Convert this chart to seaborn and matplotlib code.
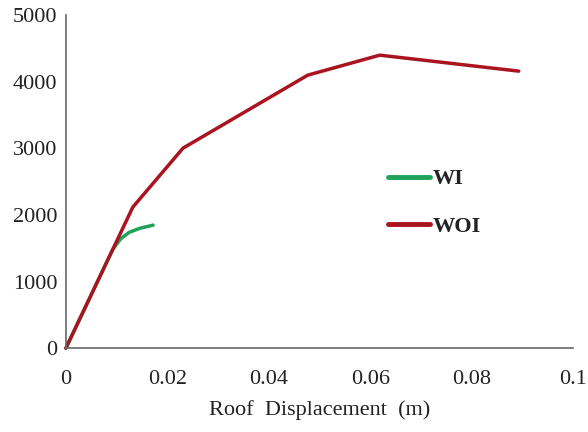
import pandas as pd
import numpy as np
import matplotlib
matplotlib.use("Agg")
import matplotlib.pyplot as plt
import seaborn as sns

# =========================
# DATA
# =========================

wi_disp = [0.0, 0.0093, 0.0108, 0.0125, 0.0146, 0.0172]
wi_force = [0, 1490, 1640, 1740, 1800, 1847]

woi_disp = [0.0, 0.0132, 0.0231, 0.0477, 0.0619, 0.0893]
woi_force = [0, 2117, 3003, 4099, 4399, 4159]

series_names = ["WI", "WOI"]
series_colors = ["#1fa35a", "#aa1420"]

x_ticks = [0, 0.02, 0.04, 0.06, 0.08, 0.1]
x_labels = ["0", "0.02", "0.04", "0.06", "0.08", "0.1"]
y_ticks = [0, 1000, 2000, 3000, 4000, 5000]

df = pd.concat([
    pd.DataFrame({"disp": wi_disp, "force": wi_force, "case": series_names[0]}),
    pd.DataFrame({"disp": woi_disp, "force": woi_force, "case": series_names[1]}),
])

# =========================
# PLOT
# =========================

sns.set_style("white")
plt.rcParams['font.family'] = ['Liberation Serif', 'DejaVu Serif']

fig = plt.figure(figsize=(5.88, 4.32), dpi=100)
ax = fig.add_axes([0.112, 0.194, 0.8625, 0.771])

sns.lineplot(
    data=df, x="disp", y="force", hue="case",
    hue_order=series_names, palette=series_colors,
    linewidth=2.5, sort=False, ax=ax, clip_on=False
)

ax.set_xlim(0, 0.1)
ax.set_ylim(0, 5000)
ax.set_xticks(x_ticks)
ax.set_xticklabels(x_labels)
ax.set_yticks(y_ticks)

ax.set_xlabel("Roof  Displacement  (m)", fontsize=16, color="#222222", labelpad=8)
ax.set_ylabel("")

for side in ["top", "right"]:
    ax.spines[side].set_visible(False)
for side in ["left", "bottom"]:
    ax.spines[side].set_color("#666666")
    ax.spines[side].set_linewidth(1.2)

ax.tick_params(axis="both", direction="out", length=5, width=1.1,
               color="#666666", labelsize=16, labelcolor="#222222")
ax.tick_params(axis="x", pad=11)
ax.tick_params(axis="y", pad=1)

leg = ax.legend(
    loc="center left", bbox_to_anchor=(0.635, 0.437),
    frameon=False, handlelength=1.9, handletextpad=0.12,
    labelspacing=1.2, borderpad=0, borderaxespad=0,
    prop={"size": 16, "weight": "bold"}
)
for line in leg.get_lines():
    line.set_linewidth(3.5)
for text in leg.get_texts():
    text.set_color("#222222")

plt.savefig("out.png", dpi=100)
